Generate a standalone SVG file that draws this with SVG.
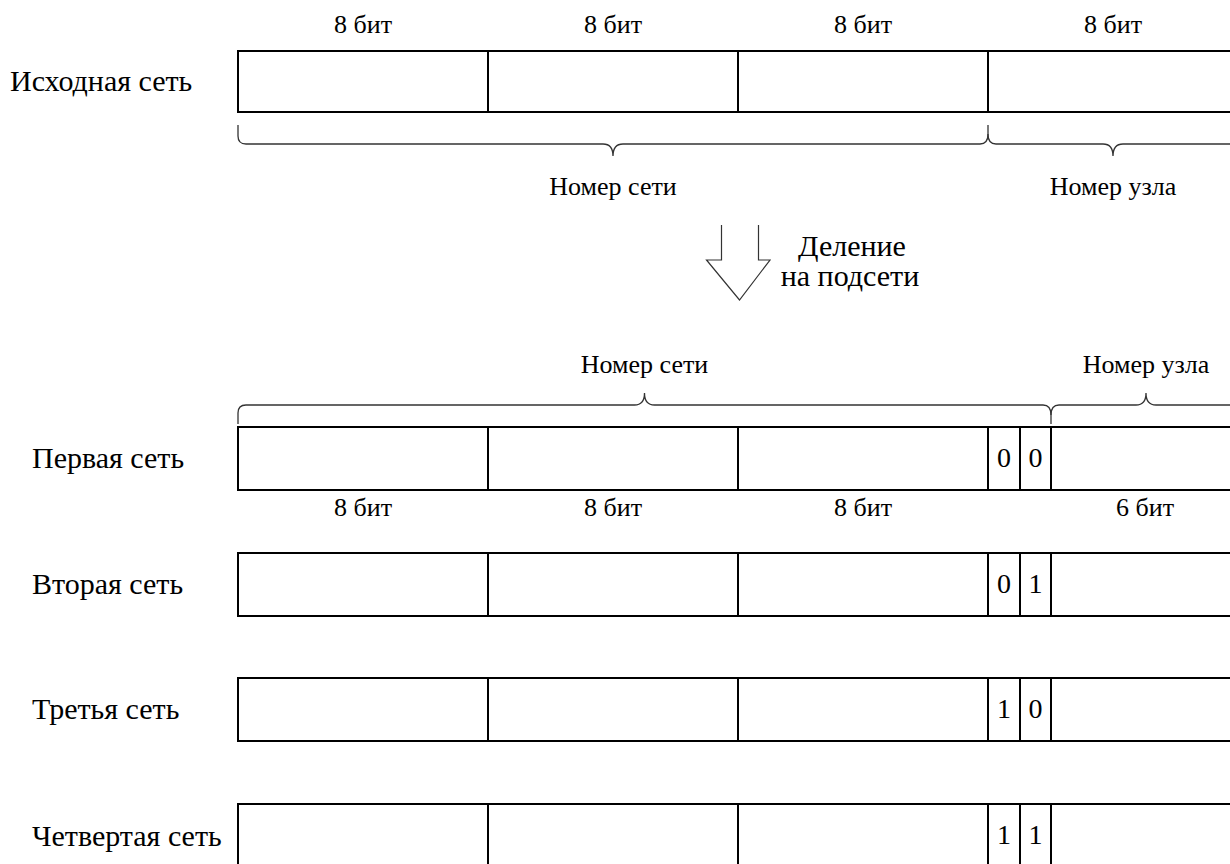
<svg xmlns="http://www.w3.org/2000/svg" width="1230" height="864" viewBox="0 0 1230 864">
<style>
.box{fill:#fff;stroke:#000;stroke-width:2}
.div{stroke:#000;stroke-width:2;fill:none}
.brace{fill:none;stroke:#333;stroke-width:1.3}
.arrow{fill:#fff;stroke:#333;stroke-width:1.2}
.lbl{font-size:30px;fill:#000}
.sm{font-size:26px;text-anchor:middle;fill:#000}
.md{font-size:30px;text-anchor:middle;fill:#000}
.dg{font-size:28px;text-anchor:middle;fill:#000}
</style>
<rect width="1230" height="864" fill="#fff"/>

<g id="src">
<text class="lbl" font-family="Liberation Serif" x="10" y="91" font-size="31">Исходная сеть</text>
<rect class="box" x="238" y="51" width="1002" height="61"/>
<path class="div" d="M488 51V112M738 51V112M988 51V112"/>
<text class="sm" font-family="Liberation Serif" x="363" y="33">8 бит</text>
<text class="sm" font-family="Liberation Serif" x="613" y="33">8 бит</text>
<text class="sm" font-family="Liberation Serif" x="863" y="33">8 бит</text>
<text class="sm" font-family="Liberation Serif" x="1113" y="33">8 бит</text>
</g>

<g id="connectors">
<path class="brace" d="M238 125V136Q238 144 246 144H603Q613 144 613 156Q613 144 623 144H980Q988 144 988 134V125"/>
<path class="brace" d="M988 134Q988 144 996 144H1103Q1113 144 1113 156Q1113 144 1123 144H1240"/>
<path class="arrow" d="M721.5 225V260H706.5L739.5 300L770 260H758.5V225"/>
<path class="brace" d="M238 424V413Q238 405 246 405H634.5Q644.5 405 644.5 393Q644.5 405 654.5 405H1043Q1051 405 1051 415V424"/>
<path class="brace" d="M1051 415Q1051 405 1059 405H1136Q1146 405 1146 393Q1146 405 1156 405H1240"/>
</g>

<g id="labels">
<text class="sm" font-family="Liberation Serif" x="613" y="195">Номер сети</text>
<text class="sm" font-family="Liberation Serif" x="1113" y="195">Номер узла</text>
<text class="md" font-family="Liberation Serif" x="852" y="256">Деление</text>
<text class="md" font-family="Liberation Serif" x="850" y="286">на подсети</text>
<text class="sm" font-family="Liberation Serif" x="644.5" y="373">Номер сети</text>
<text class="sm" font-family="Liberation Serif" x="1146" y="373">Номер узла</text>
<text class="sm" font-family="Liberation Serif" x="363" y="516">8 бит</text>
<text class="sm" font-family="Liberation Serif" x="613" y="516">8 бит</text>
<text class="sm" font-family="Liberation Serif" x="863" y="516">8 бит</text>
<text class="sm" font-family="Liberation Serif" x="1145" y="516">6 бит</text>
</g>

<g id="net1">
<text class="lbl" font-family="Liberation Serif" x="32" y="468">Первая сеть</text>
<rect class="box" x="238" y="427" width="1002" height="63"/>
<path class="div" d="M488 427V490M738 427V490M988 427V490M1020 427V490M1051 427V490"/>
<text class="dg" font-family="Liberation Serif" x="1004" y="467">0</text>
<text class="dg" font-family="Liberation Serif" x="1035.5" y="467">0</text>
</g>

<g id="net2">
<text class="lbl" font-family="Liberation Serif" x="32" y="594">Вторая сеть</text>
<rect class="box" x="238" y="553" width="1002" height="63"/>
<path class="div" d="M488 553V616M738 553V616M988 553V616M1020 553V616M1051 553V616"/>
<text class="dg" font-family="Liberation Serif" x="1004" y="593">0</text>
<text class="dg" font-family="Liberation Serif" x="1035.5" y="593">1</text>
</g>

<g id="net3">
<text class="lbl" font-family="Liberation Serif" x="32" y="719">Третья сеть</text>
<rect class="box" x="238" y="678" width="1002" height="63"/>
<path class="div" d="M488 678V741M738 678V741M988 678V741M1020 678V741M1051 678V741"/>
<text class="dg" font-family="Liberation Serif" x="1004" y="718">1</text>
<text class="dg" font-family="Liberation Serif" x="1035.5" y="718">0</text>
</g>

<g id="net4">
<text class="lbl" font-family="Liberation Serif" x="32" y="846">Четвертая сеть</text>
<rect class="box" x="238" y="804" width="1002" height="63"/>
<path class="div" d="M488 804V867M738 804V867M988 804V867M1020 804V867M1051 804V867"/>
<text class="dg" font-family="Liberation Serif" x="1004" y="844">1</text>
<text class="dg" font-family="Liberation Serif" x="1035.5" y="844">1</text>
</g>
</svg>
